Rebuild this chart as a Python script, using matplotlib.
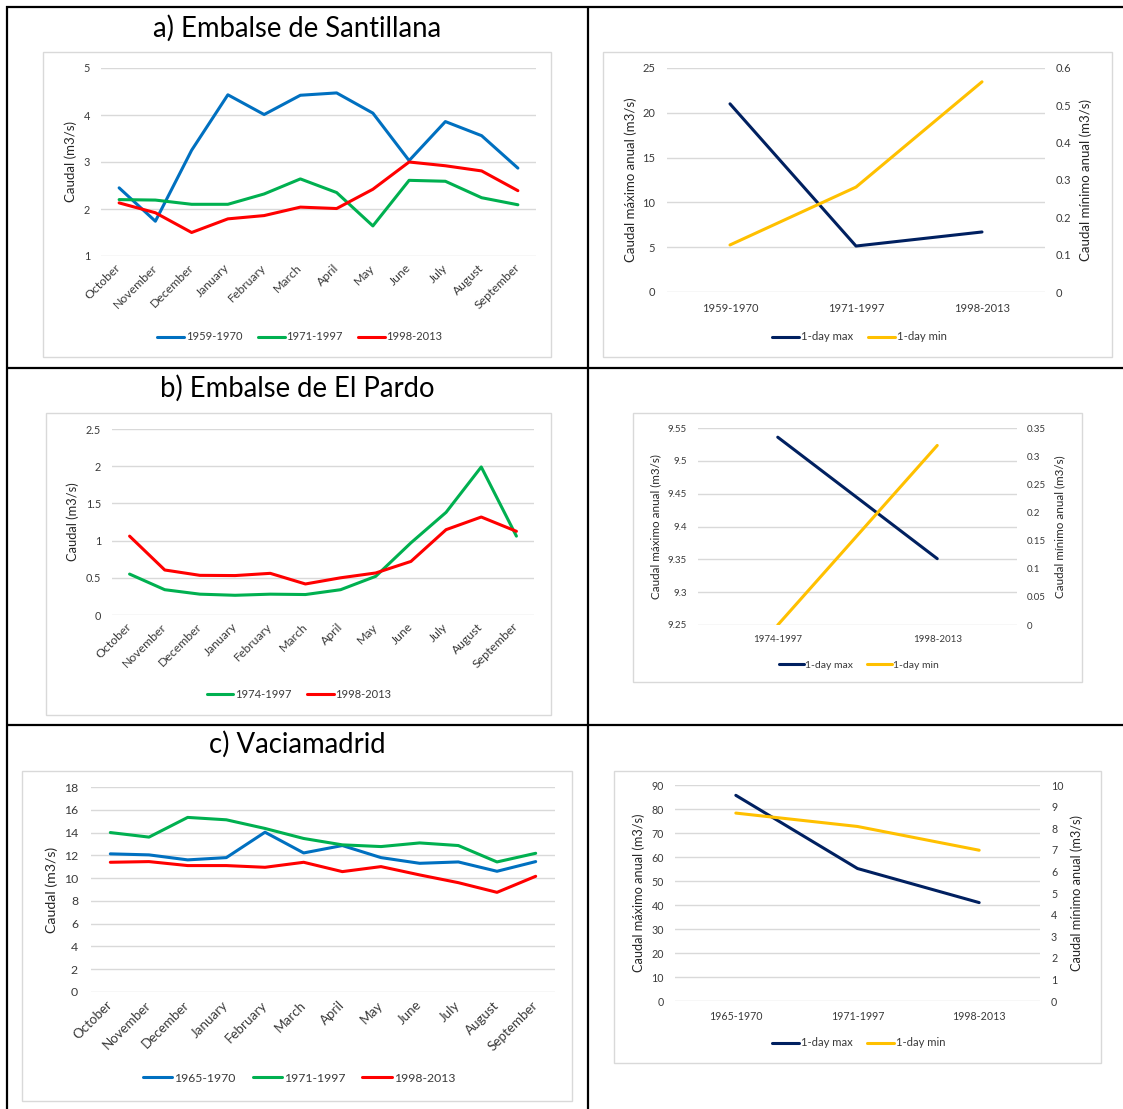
import matplotlib
matplotlib.use("Agg")
import matplotlib.pyplot as plt
from matplotlib.lines import Line2D
from matplotlib.patches import Rectangle
from matplotlib.ticker import FuncFormatter

plt.rcParams["font.family"] = ["Lato", "DejaVu Sans"]

# ---------------------------------------------------------------- data
months = ["October", "November", "December", "January", "February", "March",
          "April", "May", "June", "July", "August", "September"]

# a) Embalse de Santillana - mean monthly flow (m3/s)
sant_periods = ["1959-1970", "1971-1997", "1998-2013"]
sant_1959_1970 = [2.45, 1.74, 3.25, 4.43, 4.01, 4.42, 4.47, 4.04, 3.03, 3.86, 3.56, 2.87]
sant_1971_1997 = [2.20, 2.19, 2.10, 2.10, 2.32, 2.64, 2.35, 1.64, 2.61, 2.59, 2.24, 2.09]
sant_1998_2013 = [2.13, 1.92, 1.50, 1.79, 1.86, 2.04, 2.01, 2.42, 3.00, 2.92, 2.81, 2.39]
sant_max_1day = [21.0, 5.13, 6.7]
sant_min_1day = [0.126, 0.281, 0.563]

# b) Embalse de El Pardo
pardo_periods = ["1974-1997", "1998-2013"]
pardo_1974_1997 = [0.55, 0.34, 0.28, 0.265, 0.28, 0.275, 0.34, 0.52, 0.97, 1.38, 1.99, 1.06]
pardo_1998_2013 = [1.06, 0.605, 0.533, 0.53, 0.56, 0.417, 0.50, 0.565, 0.72, 1.147, 1.317, 1.125]
pardo_max_1day = [9.536, 9.351]
pardo_min_1day = [0.0, 0.319]

# c) Vaciamadrid
vacia_periods = ["1965-1970", "1971-1997", "1998-2013"]
vacia_1965_1970 = [12.13, 12.04, 11.6, 11.8, 14.03, 12.21, 12.86, 11.8, 11.3, 11.42, 10.6, 11.45]
vacia_1971_1997 = [14.0, 13.6, 15.33, 15.12, 14.36, 13.48, 12.92, 12.77, 13.09, 12.86, 11.42, 12.18]
vacia_1998_2013 = [11.39, 11.45, 11.1, 11.1, 10.95, 11.39, 10.57, 11.01, 10.28, 9.6, 8.75, 10.16]
vacia_max_1day = [85.7, 55.2, 41.0]
vacia_min_1day = [8.7, 8.08, 6.98]

annual_labels = ["1-day max", "1-day min"]
monthly_ylabel = "Caudal (m3/s)"
max_ylabel = "Caudal máximo anual (m3/s)"
min_ylabel = "Caudal mínimo anual (m3/s)"

# ---------------------------------------------------------------- style
BLUE, GREEN, RED = "#0070C0", "#00B050", "#FF0000"
NAVY, GOLD = "#002060", "#FFC000"
GRID_C = "#D9D9D9"
FRAME_C = "#D9D9D9"
TICK_C = "#3a3a3a"
LABEL_C = "#262626"
LW = 2.2

W, H = 1123, 1109
fig = plt.figure(figsize=(W / 100, H / 100), dpi=100)


def frac(x0, y0, x1, y1):
    """Pixel box (top-left origin) -> figure fraction rect."""
    return [x0 / W, 1 - y1 / H, (x1 - x0) / W, (y1 - y0) / H]


def fx(x):
    return x / W


def fy(y):
    return 1 - y / H


def pt(px):
    return px * 0.72


def num_fmt(v, _pos=None):
    return f"{round(v, 4):g}"


def frame(x0, y0, x1, y1):
    fig.add_artist(Rectangle((fx(x0), fy(y1)), (x1 - x0) / W, (y1 - y0) / H,
                             transform=fig.transFigure, fill=False,
                             edgecolor=FRAME_C, lw=1.0))


def clean(ax):
    for s in ax.spines.values():
        s.set_visible(False)
    ax.patch.set_alpha(0)


def monthly_panel(plot_box, frame_box, series, colors, labels, yticks,
                  title, title_xy, ylabel_xy, legend_xy,
                  ytick_fs, xtick_fs, label_fs, legend_fs, title_fs,
                  ypad, xpad, colsp):
    frame(*frame_box)
    ax = fig.add_axes(frac(*plot_box))
    clean(ax)
    xs = list(range(len(months)))
    for vals, c, lab in zip(series, colors, labels):
        ax.plot(xs, vals, color=c, lw=LW, label=lab,
                solid_joinstyle="round", solid_capstyle="round")
    ax.set_xlim(-0.5, len(months) - 0.5)
    ax.set_ylim(yticks[0], yticks[-1])
    ax.set_yticks(yticks)
    ax.yaxis.set_major_formatter(FuncFormatter(num_fmt))
    ax.set_xticks(xs)
    ax.set_xticklabels(months, rotation=45, ha="right", va="center",
                       rotation_mode="anchor")
    ax.tick_params(length=0, labelcolor=TICK_C)
    ax.tick_params(axis="y", pad=pt(ypad), labelsize=ytick_fs)
    ax.tick_params(axis="x", pad=pt(xpad), labelsize=xtick_fs)
    ax.grid(axis="y", color=GRID_C, lw=1.0)
    ax.grid(axis="x", visible=False)
    ax.set_axisbelow(True)
    fig.text(fx(title_xy[0]), fy(title_xy[1]), title, ha="center", va="center",
             fontsize=title_fs, color="black")
    fig.text(fx(ylabel_xy[0]), fy(ylabel_xy[1]), monthly_ylabel, rotation=90,
             ha="center", va="center", fontsize=label_fs, color=LABEL_C)
    ax.legend(loc="center", bbox_to_anchor=(fx(legend_xy[0]), fy(legend_xy[1])),
              bbox_transform=fig.transFigure, ncol=len(labels), frameon=False,
              fontsize=legend_fs, handlelength=2.4, handletextpad=0.15,
              columnspacing=colsp, borderaxespad=0, labelcolor=TICK_C)
    return ax


def annual_panel(plot_box, frame_box, periods, max_vals, min_vals,
                 lticks, rticks, ylab_l_xy, ylab_r_xy, legend_xy,
                 tick_fs, label_fs, legend_fs, lpad, rpad, xpad, colsp):
    frame(*frame_box)
    ax = fig.add_axes(frac(*plot_box))
    clean(ax)
    ax2 = ax.twinx()
    clean(ax2)
    xs = list(range(len(periods)))
    l1, = ax.plot(xs, max_vals, color=NAVY, lw=LW, solid_capstyle="round",
                  solid_joinstyle="round")
    l2, = ax2.plot(xs, min_vals, color=GOLD, lw=LW, solid_capstyle="round",
                   solid_joinstyle="round")
    ax.set_xlim(-0.5, len(periods) - 0.5)
    ax.set_ylim(lticks[0], lticks[-1])
    ax.set_yticks(lticks)
    ax2.set_ylim(rticks[0], rticks[-1])
    ax2.set_yticks(rticks)
    ax.yaxis.set_major_formatter(FuncFormatter(num_fmt))
    ax2.yaxis.set_major_formatter(FuncFormatter(num_fmt))
    ax.set_xticks(xs)
    ax.set_xticklabels(periods)
    ax.tick_params(length=0, labelsize=tick_fs, labelcolor=TICK_C)
    ax2.tick_params(length=0, labelsize=tick_fs, labelcolor=TICK_C)
    ax.tick_params(axis="y", pad=pt(lpad))
    ax2.tick_params(axis="y", pad=pt(rpad))
    ax.tick_params(axis="x", pad=pt(xpad))
    ax.grid(axis="y", color=GRID_C, lw=1.0)
    ax.set_axisbelow(True)
    ax2.grid(False)
    fig.text(fx(ylab_l_xy[0]), fy(ylab_l_xy[1]), max_ylabel, rotation=90,
             ha="center", va="center", fontsize=label_fs, color=LABEL_C)
    fig.text(fx(ylab_r_xy[0]), fy(ylab_r_xy[1]), min_ylabel, rotation=90,
             ha="center", va="center", fontsize=label_fs, color=LABEL_C)
    ax2.legend([l1, l2], annual_labels, loc="center",
               bbox_to_anchor=(fx(legend_xy[0]), fy(legend_xy[1])),
               bbox_transform=fig.transFigure, ncol=2, frameon=False,
               fontsize=legend_fs, handlelength=2.4, handletextpad=0.15,
               columnspacing=colsp, borderaxespad=0, labelcolor=TICK_C)
    return ax, ax2


# ---------------------------------------------------------------- table grid
def rule(x0, y0, x1, y1):
    fig.add_artist(Line2D([fx(x0), fx(x1)], [fy(y0), fy(y1)],
                          transform=fig.transFigure, color="black", lw=1.6,
                          solid_capstyle="butt"))


rule(6, 7, W, 7)          # top
rule(7, 6, 7, H)          # left
rule(588, 7, 588, H)      # middle column divider
rule(7, 368, W, 368)      # row divider 1
rule(7, 725, W, 725)      # row divider 2

# ---------------------------------------------------------------- panels
monthly_panel((101, 68, 536, 256), (43, 52, 551, 357),
              [sant_1959_1970, sant_1971_1997, sant_1998_2013],
              [BLUE, GREEN, RED], sant_periods, [1, 2, 3, 4, 5],
              "a) Embalse de Santillana", (297, 28), (71, 162), (300, 337),
              7.8, 8.8, 9.5, 8.0, 19.8, 11, 10, 1.4)

annual_panel((667, 68, 1045, 292), (603, 52, 1112, 357),
             sant_periods, sant_max_1day, sant_min_1day,
             [0, 5, 10, 15, 20, 25], [0, 0.1, 0.2, 0.3, 0.4, 0.5, 0.6],
             (631, 180), (1086, 180), (859, 337),
             8.0, 9.5, 8.2, 12, 11, 11, 1.3)

monthly_panel((112, 429, 534, 615), (46, 413, 551, 715),
              [pardo_1974_1997, pardo_1998_2013],
              [GREEN, RED], pardo_periods, [0, 0.5, 1, 1.5, 2, 2.5],
              "b) Embalse de El Pardo", (297, 388), (73, 522), (299, 694),
              7.8, 8.8, 9.3, 8.0, 19.8, 11, 10, 1.4)

annual_panel((698, 428, 1017, 625), (633, 413, 1082, 682),
             pardo_periods, pardo_max_1day, pardo_min_1day,
             [9.25, 9.3, 9.35, 9.4, 9.45, 9.5, 9.55],
             [0, 0.05, 0.1, 0.15, 0.2, 0.25, 0.3, 0.35],
             (656, 527), (1060, 527), (859, 665),
             7.0, 8.4, 7.5, 11, 10, 10, 1.3)

monthly_panel((91, 787, 555, 992), (22, 771, 572, 1101),
              [vacia_1965_1970, vacia_1971_1997, vacia_1998_2013],
              [BLUE, GREEN, RED], vacia_periods, list(range(0, 19, 2)),
              "c) Vaciamadrid", (297, 744), (52, 890), (299, 1078),
              8.8, 9.6, 10.2, 8.8, 19.8, 13, 11, 1.4)

annual_panel((675, 785, 1040, 1001), (614, 771, 1101, 1063),
             vacia_periods, vacia_max_1day, vacia_min_1day,
             list(range(0, 91, 10)), list(range(0, 11)),
             (639, 893), (1077, 893), (859, 1043),
             7.7, 9.2, 8.1, 11, 11, 10, 1.3)

fig.savefig("out.png", dpi=100, facecolor="white")
